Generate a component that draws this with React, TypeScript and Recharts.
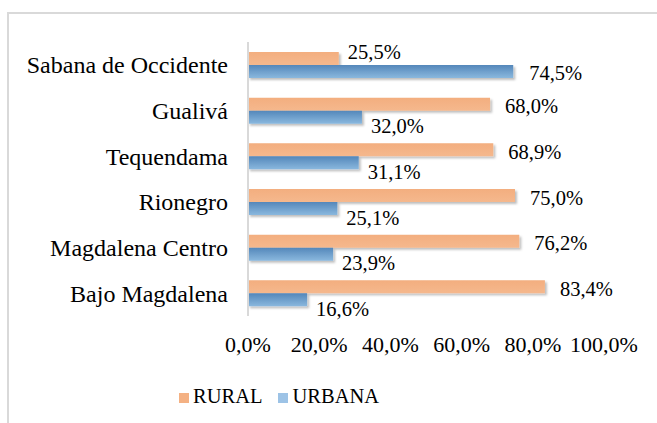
import React from 'react'
import { BarChart, Bar, XAxis, YAxis, LabelList } from 'recharts'

const provincias = [
  'Sabana de Occidente',
  'Gualivá',
  'Tequendama',
  'Rionegro',
  'Magdalena Centro',
  'Bajo Magdalena',
]
const rural = [25.5, 68.0, 68.9, 75.0, 76.2, 83.4]
const urbana = [74.5, 32.0, 31.1, 25.1, 23.9, 16.6]
const xTicks = [0, 20, 40, 60, 80, 100]

const data = provincias.map((provincia, i) => ({
  provincia,
  rural: rural[i],
  urbana: urbana[i],
}))

const pct = (v: number) => `${v.toFixed(1).replace('.', ',')}%`

const FONT = "'Liberation Serif'"
const ORANGE = '#F4B183'
const BLUE_LEGEND = '#9DC3E6'

function findIndex(props: any, series: number[]) {
  if (typeof props.index === 'number') return props.index
  return series.indexOf(Number(props.value))
}

// etiqueta RURAL: sube si la barra urbana es más larga
const RuralLabel = (props: any) => {
  const { x, y, width, height, value } = props
  const i = findIndex(props, rural)
  const urbanaMayor = urbana[i] > rural[i]
  const dx = urbanaMayor ? 9 : 15
  const dy = urbanaMayor ? -7 : 2
  return (
    <text
      x={Number(x) + Number(width) + dx}
      y={Number(y) + Number(height) / 2 + dy}
      dominantBaseline="central"
      fontSize={20.5}
      fontFamily="Liberation Serif"
      fill="#000"
    >
      {pct(Number(value))}
    </text>
  )
}

const UrbanaLabel = (props: any) => {
  const { x, y, width, height, value } = props
  const i = findIndex(props, urbana)
  const urbanaMayor = urbana[i] > rural[i]
  const dx = urbanaMayor ? 16 : 9
  const dy = urbanaMayor ? 1 : 9
  return (
    <text
      x={Number(x) + Number(width) + dx}
      y={Number(y) + Number(height) / 2 + dy}
      dominantBaseline="central"
      fontSize={20.5}
      fontFamily="Liberation Serif"
      fill="#000"
    >
      {pct(Number(value))}
    </text>
  )
}

function LegendItem({ color, label }: { color: string; label: string }) {
  return (
    <div style={{ display: 'flex', alignItems: 'center' }}>
      <div style={{ width: 10, height: 10, background: color, marginRight: 4, marginTop: 3 }} />
      <span style={{ fontFamily: FONT }}>{label}</span>
    </div>
  )
}

export default function App() {
  return (
    <div
      style={{
        position: 'absolute',
        left: 0,
        top: 0,
        width: 657,
        height: 423,
        overflow: 'hidden',
        background: '#fff',
        fontFamily: FONT,
      }}
    >
      <div
        style={{
          position: 'absolute',
          left: 322,
          top: -26,
          fontSize: 22,
          lineHeight: '25px',
          fontWeight: 'bold',
          fontStyle: 'italic',
          whiteSpace: 'nowrap',
          fontFamily: FONT,
        }}
      >
        por provincia
      </div>
      <div
        style={{
          position: 'absolute',
          left: 7,
          top: 12,
          width: 720,
          height: 460,
          border: '2px solid #d9d9d9',
          boxSizing: 'border-box',
        }}
      />
      <div style={{ position: 'absolute', left: 0, top: 0 }}>
        <BarChart
          width={657}
          height={423}
          data={data}
          layout="vertical"
          margin={{ top: 42, right: 53, bottom: 77, left: 0 }}
          barGap={0}
          barSize={13}
        >
          <defs>
            <linearGradient id="gradUrbana" x1="0" y1="0" x2="0" y2="1">
              <stop offset="0%" stopColor="#5487BA" />
              <stop offset="100%" stopColor="#8AB8DE" />
            </linearGradient>
            <linearGradient id="gradRural" x1="0" y1="0" x2="0" y2="1">
              <stop offset="0%" stopColor="#F3AE7F" />
              <stop offset="100%" stopColor="#F5B88D" />
            </linearGradient>
            <filter id="sombra" x="-5%" y="-30%" width="115%" height="180%">
              <feDropShadow dx="2" dy="2" stdDeviation="1.2" floodColor="#000" floodOpacity="0.25" />
            </filter>
          </defs>
          <XAxis
            type="number"
            domain={[0, 100]}
            ticks={xTicks}
            tickFormatter={(v: number) => pct(v)}
            axisLine={false}
            tickLine={false}
            tickSize={0}
            tickMargin={20}
            height={30}
            tick={{ fontSize: 22, fill: '#000', fontFamily: 'Liberation Serif' }}
            interval={0}
          />
          <YAxis
            type="category"
            dataKey="provincia"
            width={248}
            axisLine={{ stroke: '#d9d9d9', strokeWidth: 2 }}
            tickLine={false}
            tickSize={0}
            tickMargin={20}
            tick={{ fontSize: 24, fill: '#000', fontFamily: 'Liberation Serif' }}
            interval={0}
          />
          <Bar dataKey="rural" fill="url(#gradRural)" filter="url(#sombra)" isAnimationActive={false}>
            <LabelList dataKey="rural" content={RuralLabel} />
          </Bar>
          <Bar dataKey="urbana" fill="url(#gradUrbana)" filter="url(#sombra)" isAnimationActive={false}>
            <LabelList dataKey="urbana" content={UrbanaLabel} />
          </Bar>
        </BarChart>
      </div>
      <div
        style={{
          position: 'absolute',
          left: 179,
          top: 384,
          display: 'flex',
          gap: 16,
          fontSize: 20.5,
          lineHeight: '24px',
          color: '#000',
        }}
      >
        <LegendItem color={ORANGE} label="RURAL" />
        <LegendItem color={BLUE_LEGEND} label="URBANA" />
      </div>
    </div>
  )
}
